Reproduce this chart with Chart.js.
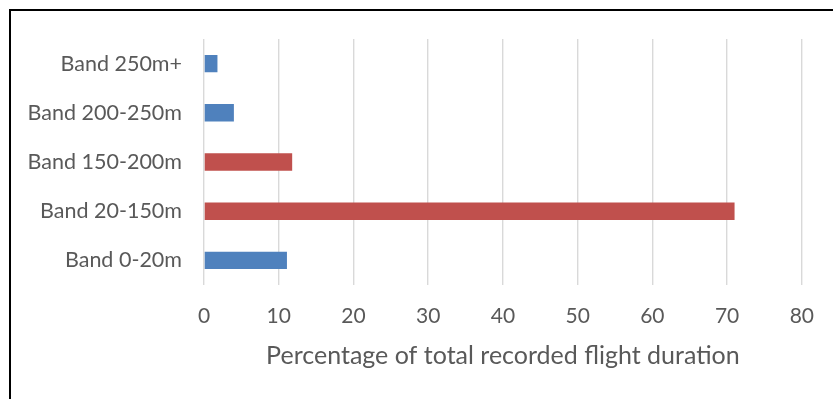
<!DOCTYPE html>
<html>
<head>
<meta charset="utf-8">
<script src="https://cdn.jsdelivr.net/npm/chart.js@4"></script>
<style>
  html, body { margin: 0; padding: 0; background: #ffffff; }
  #wrap { position: relative; width: 833px; height: 399px; overflow: hidden; }
  canvas { position: absolute; left: 0; top: 0; }
  #frame { position: absolute; left: 9px; top: 9px; width: 900px; height: 500px;
           border: 2px solid #000; pointer-events: none; }
</style>
</head>
<body>
<div id="wrap">
  <canvas id="chart" width="833" height="399"></canvas>
  <div id="frame"></div>
</div>
<script>
// Altitude bands, listed from the ground upwards
const bands = ['Band 0-20m', 'Band 20-150m', 'Band 150-200m', 'Band 200-250m', 'Band 250m+'];
// Share of total recorded flight duration (%) per band
const durationShare = [11.1, 71.0, 11.8, 4.0, 1.8];
// Value axis ticks
const axisMin = 0;
const axisMax = 80;
const axisStep = 10;
const axisTitle = 'Percentage of total recorded flight duration';

const BLUE = '#4f81bd';
const RED = '#c0504d';
// 20-200m bands are shown in red, the rest in blue
const barColors = [BLUE, RED, RED, BLUE, BLUE];

const FONT = "Lato, 'Open Sans', 'Liberation Sans', sans-serif";

const bgPlugin = {
  id: 'whiteBg',
  beforeDraw(chart) {
    const c = chart.ctx;
    c.save();
    c.fillStyle = '#ffffff';
    c.fillRect(0, 0, chart.width, chart.height);
    c.restore();
  }
};

new Chart(document.getElementById('chart'), {
  type: 'bar',
  data: {
    labels: bands,
    datasets: [{
      data: durationShare,
      backgroundColor: barColors,
      categoryPercentage: 1,
      barPercentage: 0.354
    }]
  },
  options: {
    indexAxis: 'y',
    responsive: false,
    animation: false,
    layout: { padding: { top: 39, right: 29, bottom: 0, left: 0 } },
    plugins: {
      legend: { display: false },
      tooltip: { enabled: false }
    },
    scales: {
      x: {
        min: axisMin,
        max: axisMax,
        ticks: {
          stepSize: axisStep,
          color: '#595959',
          font: { family: FONT, size: 21 },
          padding: 19
        },
        grid: { color: '#d9d9d9', lineWidth: 1.4, drawTicks: false },
        border: { display: false },
        title: {
          display: true,
          text: axisTitle,
          color: '#595959',
          font: { family: FONT, size: 25 },
          padding: { top: 0, bottom: 28 }
        },
        afterFit(scale) { scale.height = 114; }
      },
      y: {
        reverse: true,
        ticks: {
          color: '#595959',
          font: { family: FONT, size: 21.5 },
          padding: 22
        },
        grid: { display: false, drawTicks: false },
        border: { display: false },
        afterFit(scale) { scale.width = 204; }
      }
    }
  },
  plugins: [bgPlugin]
});
</script>
</body>
</html>
